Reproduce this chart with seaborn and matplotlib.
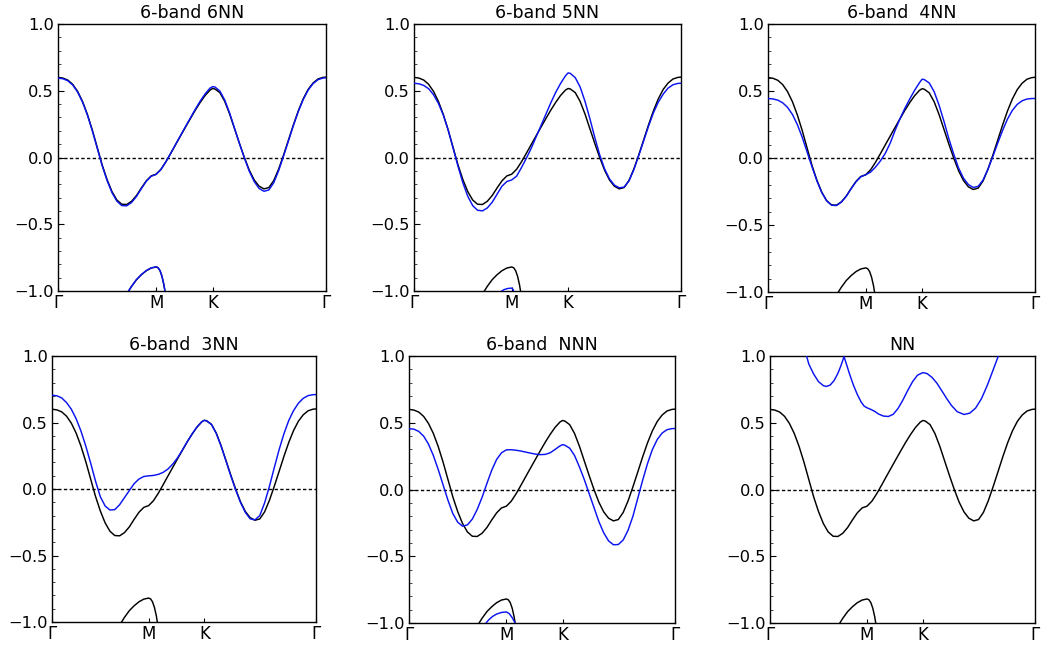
import matplotlib
matplotlib.use("Agg")
import matplotlib.pyplot as plt
import seaborn as sns
import pandas as pd
from matplotlib.ticker import MultipleLocator

# ---------------- data (path coordinate k: Gamma=0, M=1, K=1.577, Gamma=2.732) ----------------
K_TICKS = [0.0, 1.0, 1.577, 2.732]
K_LABELS = ["Γ", "M", "K", "Γ"]

K_GRID = [0.00, 0.05, 0.10, 0.15, 0.20, 0.25, 0.30, 0.35, 0.40, 0.45,
          0.50, 0.55, 0.60, 0.65, 0.70, 0.75, 0.80, 0.85, 0.90, 0.95,
          1.00, 1.05, 1.10, 1.15, 1.20, 1.25, 1.30, 1.35, 1.40, 1.45,
          1.50, 1.55, 1.577, 1.60, 1.65, 1.70, 1.75, 1.80, 1.85, 1.90,
          1.95, 2.00, 2.05, 2.10, 2.15, 2.20, 2.25, 2.30, 2.35, 2.40,
          2.45, 2.50, 2.55, 2.60, 2.65, 2.70, 2.732]

# reference (black) bands
BLACK_MAIN = [0.600, 0.595, 0.580, 0.548, 0.495, 0.420, 0.322, 0.205, 0.075, -0.055,
              -0.165, -0.255, -0.318, -0.350, -0.352, -0.328, -0.285, -0.228, -0.175, -0.138,
              -0.125, -0.088, -0.032, 0.032, 0.098, 0.163, 0.228, 0.292, 0.355, 0.413,
              0.465, 0.505, 0.517, 0.513, 0.486, 0.420, 0.325, 0.215, 0.105, 0.000,
              -0.095, -0.168, -0.215, -0.235, -0.225, -0.172, -0.085, 0.020, 0.132, 0.245,
              0.350, 0.440, 0.510, 0.558, 0.588, 0.600, 0.602]

BLACK_LOW_K = [0.70, 0.72, 0.75, 0.80, 0.85, 0.90, 0.95, 1.00, 1.02, 1.04, 1.06, 1.08, 1.09, 1.10]
BLACK_LOW = [-1.02, -1.00, -0.965, -0.915, -0.878, -0.848, -0.828, -0.820, -0.826, -0.848,
             -0.890, -0.955, -1.00, -1.04]

# model (blue) bands
BLUE_6NN = [0.595, 0.590, 0.575, 0.543, 0.490, 0.415, 0.317, 0.200, 0.070, -0.060,
            -0.172, -0.263, -0.327, -0.360, -0.362, -0.337, -0.292, -0.233, -0.178, -0.140,
            -0.127, -0.090, -0.032, 0.033, 0.100, 0.166, 0.232, 0.297, 0.362, 0.423,
            0.477, 0.520, 0.531, 0.528, 0.498, 0.430, 0.332, 0.218, 0.104, -0.004,
            -0.103, -0.180, -0.232, -0.253, -0.243, -0.188, -0.097, 0.012, 0.126, 0.240,
            0.345, 0.435, 0.505, 0.553, 0.583, 0.595, 0.597]
BLUE_6NN_LOW_K = [0.70, 0.72, 0.75, 0.80, 0.85, 0.90, 0.95, 1.00, 1.02, 1.04, 1.06, 1.08, 1.09, 1.10]
BLUE_6NN_LOW = [-1.02, -1.00, -0.965, -0.915, -0.877, -0.847, -0.827, -0.819, -0.825, -0.847,
                -0.890, -0.955, -1.00, -1.04]

BLUE_5NN = [0.556, 0.552, 0.540, 0.515, 0.470, 0.405, 0.318, 0.205, 0.070, -0.065,
            -0.190, -0.290, -0.360, -0.395, -0.400, -0.378, -0.335, -0.275, -0.215, -0.180,
            -0.168, -0.140, -0.075, -0.005, 0.070, 0.155, 0.240, 0.325, 0.410, 0.488,
            0.555, 0.612, 0.634, 0.630, 0.598, 0.528, 0.420, 0.290, 0.150, 0.020,
            -0.085, -0.160, -0.207, -0.227, -0.222, -0.175, -0.090, 0.015, 0.125, 0.235,
            0.335, 0.415, 0.475, 0.520, 0.545, 0.555, 0.556]
BLUE_5NN_LOW_K = [0.88, 0.92, 0.96, 1.00, 1.015, 1.025]
BLUE_5NN_LOW = [-1.01, -0.990, -0.981, -0.978, -0.990, -1.02]

BLUE_4NN = [0.444, 0.441, 0.432, 0.412, 0.378, 0.325, 0.250, 0.155, 0.045, -0.065,
            -0.170, -0.258, -0.320, -0.352, -0.355, -0.330, -0.287, -0.230, -0.178, -0.140,
            -0.125, -0.105, -0.068, -0.022, 0.035, 0.110, 0.205, 0.292, 0.370, 0.440,
            0.505, 0.562, 0.588, 0.585, 0.560, 0.495, 0.395, 0.275, 0.145, 0.030,
            -0.075, -0.150, -0.198, -0.220, -0.212, -0.165, -0.085, 0.010, 0.110, 0.205,
            0.290, 0.355, 0.400, 0.427, 0.440, 0.444, 0.444]

BLUE_3NN = [0.705, 0.701, 0.685, 0.650, 0.600, 0.528, 0.435, 0.322, 0.195, 0.060,
            -0.058, -0.128, -0.158, -0.155, -0.118, -0.065, -0.012, 0.040, 0.075, 0.094,
            0.099, 0.102, 0.110, 0.125, 0.150, 0.188, 0.235, 0.294, 0.356, 0.414,
            0.466, 0.506, 0.516, 0.512, 0.485, 0.418, 0.322, 0.212, 0.100, -0.005,
            -0.100, -0.175, -0.224, -0.232, -0.200, -0.105, 0.020, 0.160, 0.295, 0.415,
            0.515, 0.590, 0.645, 0.682, 0.702, 0.709, 0.710]

BLUE_NNN = [0.456, 0.452, 0.435, 0.400, 0.340, 0.255, 0.150, 0.035, -0.080, -0.180,
            -0.245, -0.275, -0.265, -0.222, -0.150, -0.060, 0.045, 0.145, 0.225, 0.275,
            0.297, 0.298, 0.294, 0.288, 0.280, 0.272, 0.265, 0.261, 0.263, 0.275,
            0.300, 0.326, 0.336, 0.332, 0.310, 0.255, 0.170, 0.075, -0.030, -0.135,
            -0.240, -0.325, -0.385, -0.414, -0.412, -0.378, -0.305, -0.200, -0.065, 0.070,
            0.195, 0.300, 0.375, 0.423, 0.448, 0.456, 0.457]
BLUE_NNN_LOW_K = [0.78, 0.82, 0.86, 0.90, 0.95, 1.00, 1.03, 1.06, 1.09, 1.10]
BLUE_NNN_LOW = [-1.01, -0.975, -0.950, -0.933, -0.921, -0.917, -0.930, -0.960, -1.00, -1.02]

BLUE_NN_K = [0.35, 0.40, 0.45, 0.50, 0.55, 0.58, 0.62, 0.66, 0.70, 0.73,
             0.763, 0.79, 0.82, 0.86, 0.90, 0.94, 0.97, 1.00, 1.04, 1.08,
             1.12, 1.17, 1.22, 1.27, 1.32, 1.37, 1.42, 1.47, 1.52, 1.577,
             1.62, 1.67, 1.72, 1.77, 1.82, 1.87, 1.93, 2.00, 2.06, 2.12,
             2.18, 2.24, 2.30, 2.354, 2.40]
BLUE_NN = [1.07, 0.94, 0.865, 0.808, 0.778, 0.772, 0.782, 0.815, 0.870, 0.925,
           0.995, 0.935, 0.865, 0.782, 0.712, 0.655, 0.625, 0.612, 0.600, 0.585,
           0.565, 0.550, 0.547, 0.563, 0.607, 0.670, 0.742, 0.808, 0.856, 0.876,
           0.868, 0.840, 0.797, 0.741, 0.683, 0.630, 0.583, 0.562, 0.572, 0.610,
           0.680, 0.780, 0.895, 1.000, 1.09]

TITLES = ["6-band 6NN", "6-band 5NN", "6-band  4NN", "6-band  3NN", "6-band  NNN", "NN"]

# ---------------- figure ----------------
sns.set_theme(style="white")
plt.rcParams["font.family"] = ["DejaVu Sans"]
plt.rcParams["axes.unicode_minus"] = True

W, H = 1041, 654
fig = plt.figure(figsize=(W / 100, H / 100), dpi=100)
fig.patch.set_facecolor("white")

boxes = [(58, 326, 24, 291), (414, 681, 24, 291), (768, 1035, 24, 292),
         (52, 316, 356, 622), (409, 675, 356, 623), (770, 1035, 356, 623)]

panels = [
    (K_GRID, BLUE_6NN, BLUE_6NN_LOW_K, BLUE_6NN_LOW),
    (K_GRID, BLUE_5NN, BLUE_5NN_LOW_K, BLUE_5NN_LOW),
    (K_GRID, BLUE_4NN, None, None),
    (K_GRID, BLUE_3NN, None, None),
    (K_GRID, BLUE_NNN, BLUE_NNN_LOW_K, BLUE_NNN_LOW),
    (BLUE_NN_K, BLUE_NN, None, None),
]

BLUE = "#0a14f0"
LW = 1.05

for (l, r, t, b), title, (bk, bv, blk, blv) in zip(boxes, TITLES, panels):
    ax = fig.add_axes([l / W, 1 - b / H, (r - l) / W, (b - t) / H])
    ax.set_facecolor("white")
    ax.axhline(0, color="black", lw=1.0, linestyle=(0, (2.4, 1.7)), zorder=1)

    sns.lineplot(data=pd.DataFrame({"k": K_GRID, "E": BLACK_MAIN}), x="k", y="E",
                 color="black", lw=LW, ax=ax, estimator=None, sort=False, zorder=2)
    sns.lineplot(data=pd.DataFrame({"k": BLACK_LOW_K, "E": BLACK_LOW}), x="k", y="E",
                 color="black", lw=LW, ax=ax, estimator=None, sort=False, zorder=2)
    sns.lineplot(data=pd.DataFrame({"k": bk, "E": bv}), x="k", y="E",
                 color=BLUE, lw=LW, ax=ax, estimator=None, sort=False, zorder=3)
    if blk is not None:
        sns.lineplot(data=pd.DataFrame({"k": blk, "E": blv}), x="k", y="E",
                     color=BLUE, lw=LW, ax=ax, estimator=None, sort=False, zorder=3)

    ax.set_xlim(0, 2.732)
    ax.set_ylim(-1, 1)
    ax.set_xlabel("")
    ax.set_ylabel("")
    ax.set_xticks(K_TICKS)
    ax.set_xticklabels(K_LABELS, fontsize=12)
    ax.set_yticks([-1.0, -0.5, 0.0, 0.5, 1.0])
    ax.set_yticklabels(["\u22121.0", "\u22120.5", "0.0", "0.5", "1.0"], fontsize=11.7)
    ax.yaxis.set_minor_locator(MultipleLocator(0.1))
    ax.tick_params(axis="y", which="major", direction="in", length=4, width=0.8,
                   pad=3, colors="black", left=True)
    ax.tick_params(axis="y", which="minor", direction="in", length=2, width=0.6, left=True)
    ax.tick_params(axis="x", which="major", direction="in", length=3, width=0.8,
                   pad=2, colors="black", bottom=True)
    for s in ax.spines.values():
        s.set_visible(True)
        s.set_color("black")
        s.set_linewidth(1.0)
    ax.set_title(title, fontsize=12.5, pad=4, color="black")

fig.savefig("out.png", dpi=100, facecolor="white")
